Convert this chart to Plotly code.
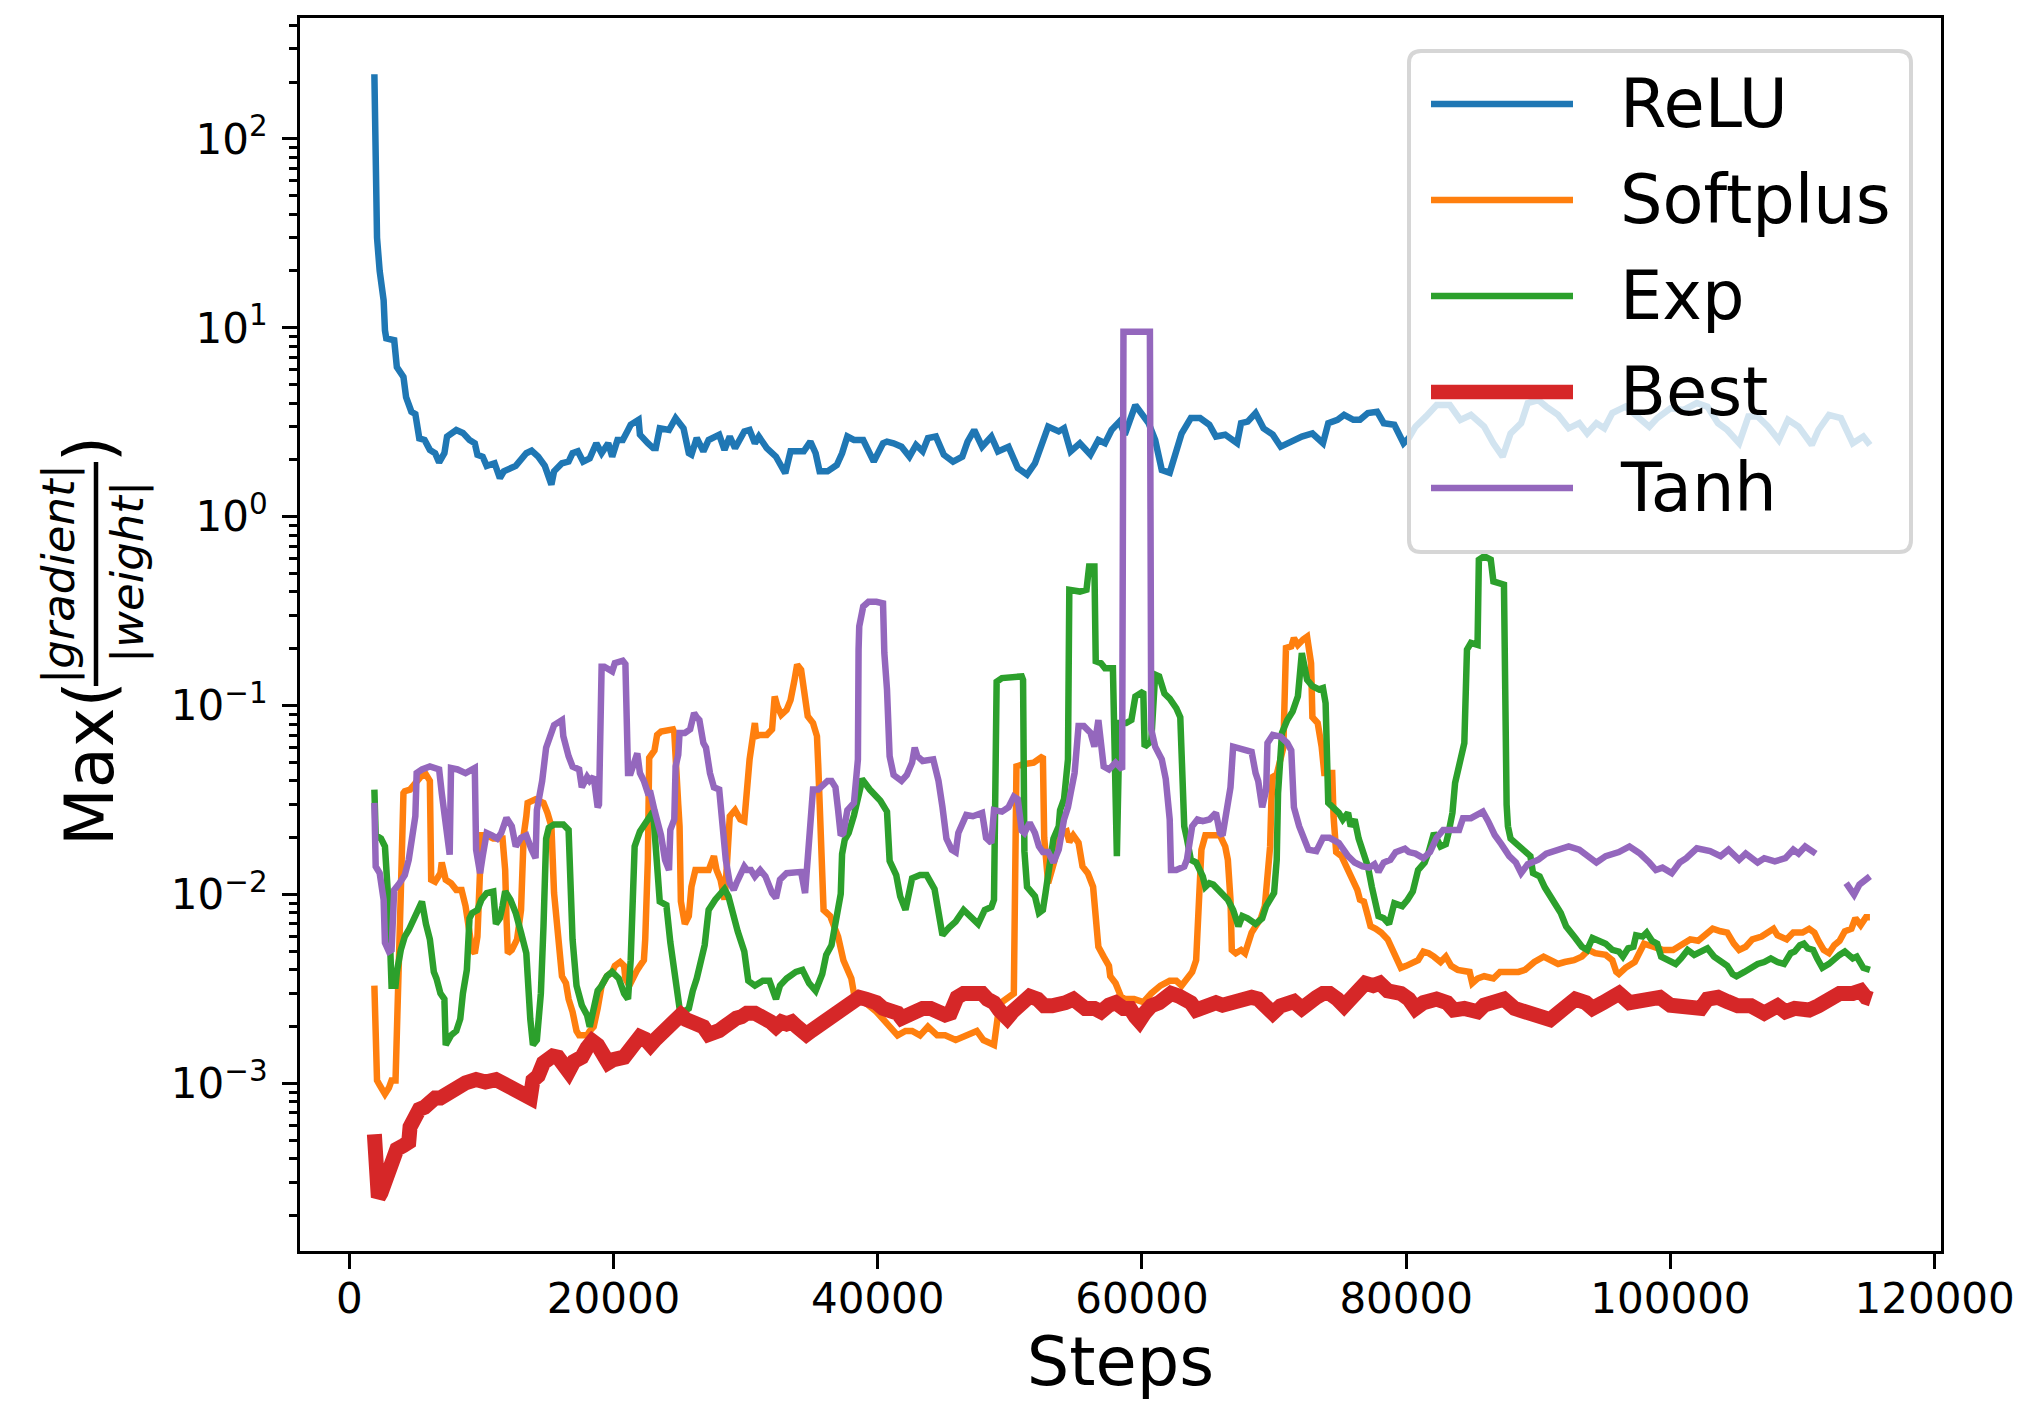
import plotly.graph_objects as go

# ---------------- data ----------------
relu_x = [1900, 2000, 2100, 2300, 2600, 2700, 2800, 3400, 3600, 4100, 4300, 4700, 5000, 5300, 5700, 6100, 6500, 6800,
          7200, 7400, 8100, 8600, 9100, 9500, 9700, 10100, 10400, 11000, 11400, 11700, 12600, 13400, 13800, 14300,
          14800, 15300, 15500, 16100, 16600, 16900, 17300, 17700, 18200, 18700, 19100, 19600, 19900, 20300, 20700,
          21100, 21300, 21900, 22000, 22600, 23000, 23200, 23500, 24200, 24700, 25300, 25700, 25900, 26300, 26800,
          27200, 28000, 28400, 28800, 29200, 29900, 30300, 30700, 31000, 31600, 32300, 33000, 33400, 34100, 34400,
          34900, 35300, 35600, 36200, 36900, 37300, 37700, 38200, 38900, 39700, 40400, 40700, 41200, 41800, 42400,
          42900, 43400, 43800, 44400, 45000, 45700, 46400, 46800, 47300, 47900, 48600, 49100, 49900, 50600, 51300,
          51900, 52300, 52900, 53700, 54100, 54600, 55300, 56100, 56700, 57200, 57700, 58300, 58700, 59500, 59900,
          60500, 61000, 61500, 62100, 62500, 63000, 63700, 64400, 65100, 65600, 66300, 67200, 67500, 68000, 68600,
          69200, 69900, 70500, 71300, 72100, 72900, 73700, 74100, 74800, 75300, 76000, 76500, 77100, 77800, 78300,
          79100, 79800, 80200, 80700, 81500, 82300, 83300, 84100, 84900, 85900, 86600, 87300, 87900, 88700, 89200,
          90000, 90600, 91500, 92300, 93100, 93700, 94400, 95000, 95600, 96600, 97400, 98400, 99000, 100000, 101000,
          102000, 102800, 103600, 104300, 105200, 105900, 106600, 107400, 108200, 108900, 109700, 110700, 111200,
          112000, 112900, 113800, 114600, 115100]
relu_y = [220, 100, 30, 20, 14, 9.7, 8.8, 8.6, 6.2, 5.5, 4.3, 3.6, 3.5, 2.6, 2.55, 2.26, 2.17, 1.94,
          2.17, 2.66, 2.88, 2.78, 2.55, 2.45, 2.13, 2.08, 1.86, 1.92, 1.6, 1.74, 1.86, 2.17, 2.24, 2.08,
          1.86, 1.48, 1.74, 1.92, 1.96, 2.17, 2.22, 1.96, 2.04, 2.45, 2.17, 2.45, 2.08, 2.55, 2.55,
          2.88, 3.07, 3.26, 2.72, 2.45, 2.31, 2.31, 2.94, 2.88, 3.33, 2.94, 2.17, 2.13, 2.61, 2.22,
          2.55, 2.72, 2.26, 2.66, 2.31, 2.83, 2.88, 2.45, 2.66, 2.31, 2.08, 1.70, 2.22, 2.22, 2.22,
          2.5, 2.17, 1.74, 1.74, 1.88, 2.17, 2.66, 2.55, 2.55, 1.96, 2.45, 2.5, 2.45, 2.35, 2.08,
          2.4, 2.22, 2.61, 2.66, 2.13, 1.96, 2.08, 2.5, 2.88, 2.35, 2.66, 2.22, 2.35, 1.81, 1.67,
          1.92, 2.31, 3.0, 2.83, 2.94, 2.22, 2.45, 2.13, 2.55, 2.45, 2.88, 3.19, 2.72, 3.9, 3.6,
          3.13, 2.55, 1.77, 1.71, 2.13, 2.76, 3.33, 3.33, 3.07, 2.66, 2.72, 2.45, 3.13, 3.19, 3.54,
          2.94, 2.72, 2.35, 2.5, 2.66, 2.76, 2.45, 3.13, 3.26, 3.46, 3.26, 3.26, 3.54, 3.6, 3.13,
          3.07, 2.45, 2.61, 3.0, 3.4, 3.9, 3.9, 3.26, 3.46, 3.0, 2.45, 2.08, 2.76, 3.13, 4.0,
          4.15, 3.83, 3.46, 2.94, 3.13, 2.76, 3.13, 2.94, 3.54, 3.83, 3.4, 3.0, 3.33, 3.75, 3.68,
          4.0, 3.83, 3.13, 2.88, 2.45, 3.4, 3.4, 3.0, 2.55, 3.26, 3.0, 2.4, 2.88,
          3.46, 3.33, 2.45, 2.66, 2.4]

softplus_x = [1900, 2000, 2100, 2300, 2700, 3000, 3200, 3500, 3600, 3800, 3900, 4100, 4200, 4600, 5000, 5400, 5800,
              6100, 6200, 6500, 6900, 7000, 7300, 7700, 8100, 8500, 8800, 9100, 9300, 9500, 9700, 9900, 10000, 10400,
              10900, 11600, 11800, 11900, 12000, 12300, 12700, 13000, 13100, 13200, 13400, 13500, 14100, 14700, 15000,
              15300, 15500, 15800, 16100, 16400, 16600, 16900, 17200, 17400, 18000, 18200, 18500, 18800, 19100, 19500,
              19900, 20100, 20500, 20800, 20900, 21200, 21500, 21800, 22000, 22300, 22400, 22600, 22700, 23100, 23300,
              23600, 24500, 24600, 24900, 25000, 25100, 25400, 25700, 25900, 26200, 27200, 27600, 27800, 28100, 28400,
              28500, 28600, 28800, 29200, 29600, 29900, 30100, 30300, 30700, 30800, 31100, 31600, 32000, 32200, 32400,
              32700, 33100, 33400, 33700, 33900, 34200, 34500, 34700, 35100, 35400, 35500, 35800, 35900, 36400, 36800,
              37000, 37400, 37700, 38000, 38200, 38800, 39300, 39900, 40400, 40900, 41500, 42100, 42600, 43200, 43800,
              44500, 45100, 45900, 46700, 47500, 48000, 48800, 49100, 49400, 50300, 50500, 51000, 51800, 52500, 52600,
              52900, 53400, 53700, 54000, 54300, 54500, 54800, 55200, 55500, 55900, 56300, 56400, 56700, 57100, 57500,
              57600, 58000, 58400, 58700, 59400, 60100, 60700, 61400, 62100, 62600, 63000, 63400, 63800, 64100, 64200,
              64400, 64500, 64800, 65300, 65900, 66300, 66500, 66700, 66800, 67100, 67500, 67800, 68000, 68300, 68600,
              69000, 69300, 69500, 69700, 69800, 69900, 70200, 70700, 70900, 71300, 71500, 71800, 72200, 72500, 72800,
              72900, 73300, 73600, 73800, 74400, 74500, 74700, 75100, 75500, 75900, 76300, 76500, 76800, 77100, 77300,
              77700, 78100, 78600, 79100, 79400, 79600, 80000, 80500, 80900, 81300, 81700, 82100, 82600, 83000, 83400,
              83900, 84400, 84800, 85000, 85400, 85900, 86600, 87100, 87800, 88500, 89000, 89700, 90400, 90900, 91500,
              92000, 92700, 93300, 93800, 94300, 95100, 95600, 95900, 96100, 96600, 97300, 97700, 98000, 98700, 99400,
              100200, 100700, 101500, 102100, 102600, 103200, 103800, 104300, 104800, 105200, 105700, 106200, 106900,
              107400, 107800, 108100, 108800, 109300, 110000, 110500, 110900, 111200, 111600, 112000, 112400, 112800,
              113200, 113700, 114000, 114400, 114800, 115100]
softplus_y = [0.0033, 0.0016, 0.00104, 0.00098, 0.00088, 0.00095, 0.00104, 0.00104, 0.0018, 0.0030, 0.0102, 0.0345,
              0.0353, 0.036, 0.039, 0.042, 0.0433, 0.040, 0.012, 0.0117, 0.013, 0.0148, 0.012, 0.0115, 0.0106, 0.0106,
              0.0087, 0.006, 0.0051, 0.0049, 0.006, 0.0135, 0.0206, 0.0206, 0.0198, 0.0198, 0.0135, 0.0075, 0.0049,
              0.0051, 0.0058, 0.0083, 0.012, 0.0206, 0.026, 0.0306, 0.032, 0.0306, 0.0271, 0.023, 0.0102, 0.0063,
              0.0037, 0.0034, 0.0028, 0.0024, 0.0019, 0.0018, 0.0018, 0.0019, 0.002, 0.0025, 0.0033, 0.0037, 0.0039,
              0.0042, 0.0044, 0.0042, 0.0036, 0.0033, 0.0037, 0.004, 0.0042, 0.0045, 0.0058, 0.0153, 0.053, 0.058,
              0.070, 0.073, 0.075, 0.072, 0.030, 0.023, 0.0092, 0.007, 0.0077, 0.011, 0.0135, 0.0135, 0.016, 0.0135,
              0.012, 0.0094, 0.0115, 0.018, 0.026, 0.028, 0.025, 0.0245, 0.0345, 0.052, 0.081, 0.069, 0.070, 0.070,
              0.075, 0.112, 0.0995, 0.0895, 0.095, 0.107, 0.137, 0.165, 0.155, 0.107, 0.088, 0.081, 0.069, 0.0477,
              0.0153, 0.0083, 0.0077, 0.0065, 0.006, 0.0045, 0.004, 0.0036, 0.003, 0.0028, 0.0026, 0.0024, 0.0022,
              0.002, 0.0018, 0.0019, 0.0019, 0.0018, 0.0020, 0.0018, 0.0018, 0.0017, 0.0018, 0.0019, 0.0017, 0.0016,
              0.0023, 0.0027, 0.003, 0.0477, 0.049, 0.050, 0.054, 0.02, 0.0115, 0.0153, 0.0198, 0.0212, 0.0216,
              0.019, 0.0206, 0.0188, 0.0141, 0.013, 0.011, 0.0087, 0.0053, 0.0047, 0.0042, 0.0037, 0.0034, 0.0029,
              0.0028, 0.0028, 0.0027, 0.003, 0.0033, 0.0035, 0.0035, 0.0033, 0.0036, 0.0039, 0.0045, 0.0068, 0.0102,
              0.0173, 0.0206, 0.0207, 0.0206, 0.018, 0.0153, 0.0094, 0.0051, 0.0049, 0.0051, 0.0049, 0.0055, 0.0063,
              0.0068, 0.0075, 0.0087, 0.0115, 0.018, 0.032, 0.042, 0.0433, 0.06, 0.202, 0.206, 0.228, 0.21, 0.224,
              0.232, 0.168, 0.087, 0.081, 0.0607, 0.044, 0.044, 0.026, 0.0168, 0.016, 0.0141, 0.012, 0.0106, 0.0094,
              0.0092, 0.0077, 0.0068, 0.0066, 0.0063, 0.0058, 0.0049, 0.0043, 0.0041, 0.0042, 0.0044, 0.0045, 0.005,
              0.0049, 0.0047, 0.0044, 0.0047, 0.0042, 0.004, 0.0039, 0.0039, 0.0034, 0.0036, 0.0037, 0.0036, 0.0039,
              0.0039, 0.0039, 0.004, 0.0044, 0.0047, 0.0045, 0.0043, 0.0044, 0.0045, 0.0047, 0.0051, 0.0049, 0.0048,
              0.0045, 0.0039, 0.0038, 0.0041, 0.0044, 0.0051, 0.0055, 0.0053, 0.0051, 0.0051, 0.0054, 0.0058, 0.0057,
              0.0061, 0.0066, 0.0064, 0.0063, 0.0055, 0.0051, 0.0053, 0.0058, 0.006, 0.0064, 0.0066, 0.0061, 0.0058,
              0.0063, 0.0063, 0.0066, 0.0063, 0.0057, 0.0051, 0.0049, 0.0054, 0.0057, 0.0064, 0.0066, 0.0075, 0.0069,
              0.0076, 0.0076]

exp_x = [1900, 2000, 2400, 2700, 3000, 3100, 3200, 3500, 3600, 3900, 4200, 4500, 4700, 5000, 5300, 5500, 5800, 6100,
         6400, 6600, 6900, 7200, 7300, 7700, 8100, 8400, 8600, 8900, 9100, 9300, 9700, 10000, 10400, 10900, 11100,
         11400, 11600, 11800, 12200, 12600, 13000, 13400, 13700, 13900, 14200, 14500, 14700, 14900, 15100, 15500,
         16200, 16600, 16900, 17200, 17600, 18000, 18200, 18500, 18800, 19100, 19500, 19900, 20400, 20800, 21100,
         21300, 21600, 22000, 22400, 22700, 23000, 23500, 24000, 24300, 24700, 25000, 25300, 25700, 26000, 26300,
         26900, 27200, 27700, 28400, 28700, 29100, 29400, 29900, 30200, 30700, 31300, 31800, 32300, 32600, 33100,
         33800, 34300, 34800, 35300, 35800, 36100, 36500, 36800, 37200, 37300, 37500, 37800, 38200, 38700, 38800,
         39400, 39700, 40200, 40700, 40900, 41400, 41700, 42100, 42600, 43200, 43700, 44300, 44600, 44900, 45400,
         45900, 46500, 47000, 47600, 48100, 48600, 48800, 49000, 49400, 50900, 51000, 51100, 51300, 51500, 51900,
         52200, 52500, 52700, 53000, 53300, 53700, 53800, 54100, 54400, 54500, 55300, 55800, 56000, 56400, 56500,
         56900, 57200, 57800, 58000, 58100, 58300, 58800, 59200, 59500, 60100, 60200, 60700, 61000, 61300, 61700,
         62100, 62400, 62600, 62900, 63200, 63400, 63700, 64100, 64400, 64600, 64800, 65100, 65400, 65800, 66200,
         66500, 66900, 67300, 67600, 68000, 68600, 69100, 69400, 69800, 70000, 70200, 70300, 70600, 71000, 71400,
         71800, 72100, 72500, 72900, 73400, 73700, 73900, 74100, 74500, 74900, 75200, 75600, 75800, 76100, 76400,
         76800, 77100, 77400, 77600, 77900, 78300, 78700, 79100, 79700, 80100, 80500, 80900, 81400, 81700, 82100,
         82600, 83000, 83200, 83500, 83700, 84000, 84100, 84400, 84600, 84900, 85400, 85500, 85900, 86400, 86600,
         87100, 87400, 87600, 87700, 87900, 88400, 89000, 89400, 89600, 90100, 90500, 90900, 91300, 91700, 92100,
         92400, 92800, 93300, 93700, 94100, 94600, 95100, 95600, 96100, 96400, 96800, 97200, 97400, 97900, 98200,
         98600, 99000, 99300, 99600, 100100, 100400, 100800, 101300, 101800, 102400, 102800, 103300, 103800, 104300,
         104700, 105000, 105600, 106100, 106600, 107100, 107600, 108100, 108600, 109100, 109400, 109800, 110100,
         110400, 110800, 111100, 111500, 112000, 112400, 112800, 113200, 113600, 113800, 114100, 114400, 114600,
         115100]
exp_y = [0.036, 0.0206, 0.0198, 0.018, 0.0083, 0.0053, 0.0033, 0.0033, 0.0039, 0.0051, 0.0060, 0.0065, 0.007, 0.0077,
         0.0087, 0.0092, 0.007, 0.0058, 0.0039, 0.0036, 0.0030, 0.0028, 0.0016, 0.0018, 0.0019, 0.0022, 0.003, 0.004,
         0.0075, 0.008, 0.0083, 0.0094, 0.0102, 0.0104, 0.007, 0.0075, 0.0087, 0.0104, 0.0094, 0.008, 0.0063, 0.0049,
         0.0022, 0.0016, 0.0017, 0.003, 0.0068, 0.0198, 0.0226, 0.0235, 0.0235, 0.022, 0.0058, 0.0033, 0.0026,
         0.0023, 0.0020, 0.0024, 0.0031, 0.0033, 0.0037, 0.0039, 0.0036, 0.003, 0.0028, 0.0045, 0.018, 0.0216, 0.024,
         0.0255, 0.0275, 0.0092, 0.0088, 0.0056, 0.0033, 0.0025, 0.0024, 0.0025, 0.0031, 0.0036, 0.0054, 0.0083,
         0.0094, 0.0107, 0.0098, 0.0076, 0.0064, 0.005, 0.0035, 0.0033, 0.0035, 0.0035, 0.0028, 0.0033, 0.0036,
         0.0039, 0.004, 0.0034, 0.0031, 0.0038, 0.0048, 0.0054, 0.007, 0.0101, 0.0164, 0.0195, 0.0212, 0.0263,
         0.0371, 0.041, 0.036, 0.0345, 0.0314, 0.0275, 0.0151, 0.0127, 0.0098, 0.0083, 0.0122, 0.0127, 0.0127,
         0.0107, 0.0076, 0.0061, 0.0067, 0.0072, 0.0083, 0.0076, 0.007, 0.0083, 0.0086, 0.0094, 0.134, 0.14, 0.143,
         0.137, 0.017, 0.011, 0.0106, 0.0098, 0.008, 0.0083, 0.0102, 0.0153, 0.0198, 0.023, 0.028, 0.032, 0.052,
         0.411, 0.402, 0.411, 0.546, 0.546, 0.172, 0.168, 0.158, 0.158, 0.05, 0.016, 0.081, 0.081, 0.084, 0.112,
         0.119, 0.0607, 0.065, 0.146, 0.143, 0.116, 0.109, 0.103, 0.097, 0.087, 0.023, 0.0198, 0.0153, 0.0148,
         0.0135, 0.0125, 0.011, 0.0115, 0.0113, 0.0106, 0.0100, 0.0094, 0.0083, 0.0068, 0.0077, 0.0075, 0.007,
         0.0075, 0.0087, 0.0096, 0.0102, 0.0153, 0.0345, 0.072, 0.084, 0.093, 0.112, 0.190, 0.137, 0.127, 0.122,
         0.124, 0.103, 0.0306, 0.029, 0.0271, 0.025, 0.0271, 0.023, 0.025, 0.0198, 0.0168, 0.0141, 0.011, 0.0094,
         0.0077, 0.0075, 0.007, 0.009, 0.0087, 0.0094, 0.0104, 0.0135, 0.0148, 0.0168, 0.0212, 0.018, 0.0185,
         0.0212, 0.0271, 0.039, 0.050, 0.052, 0.0635, 0.198, 0.215, 0.21, 0.593, 0.618, 0.593, 0.455, 0.445, 0.437,
         0.03, 0.023, 0.0198, 0.0185, 0.0173, 0.016, 0.013, 0.0125, 0.0109, 0.0098, 0.0087, 0.008, 0.0068, 0.0063,
         0.0059, 0.0053, 0.0051, 0.0059, 0.0057, 0.0055, 0.0051, 0.005, 0.0047, 0.0052, 0.0053, 0.0061, 0.006,
         0.0063, 0.0057, 0.0055, 0.0047, 0.0046, 0.0044, 0.0043, 0.0046, 0.0051, 0.0048, 0.005, 0.0052, 0.0047,
         0.0044, 0.0042, 0.0038, 0.0037, 0.0039, 0.0041, 0.0043, 0.0044, 0.0046, 0.0044, 0.0043, 0.0049, 0.005,
         0.0054, 0.0055, 0.0052, 0.0051, 0.0046, 0.0041, 0.0043, 0.0046, 0.0048, 0.005, 0.0048, 0.0046, 0.0047,
         0.0044, 0.0041, 0.004]

best_x = [1900, 2000, 2200, 2400, 2700, 3000, 3200, 3600, 4100, 4500, 4600, 4900, 5300, 5700, 6100, 6500, 6900, 7200,
          7700, 8200, 8800, 9600, 10300, 11100, 11600, 12300, 12800, 13400, 13700, 13900, 14300, 14700, 15000, 15400,
          15800, 16200, 16600, 17000, 17600, 18000, 18400, 18800, 19200, 19600, 20000, 20400, 20800, 21200, 21600,
          22000, 22400, 22800, 23200, 23600, 24100, 24500, 24900, 25100, 25500, 25900, 26300, 26800, 27200, 27600,
          28000, 28400, 28800, 29300, 29700, 30100, 30700, 31100, 31500, 31900, 32300, 32700, 33100, 33500, 33900,
          34300, 34600, 35000, 35400, 35800, 36200, 36600, 37000, 37400, 37800, 38200, 38600, 39100, 39500, 39900,
          40400, 40900, 41500, 41800, 42400, 42900, 43400, 44000, 44500, 45100, 45500, 45700, 46000, 46500, 47100,
          47500, 47900, 48300, 48800, 49200, 49500, 49800, 50200, 50600, 51000, 51500, 52100, 52600, 53200, 53700,
          54200, 54800, 55200, 55700, 56400, 56900, 57500, 58000, 58600, 59100, 59500, 59800, 60200, 60700, 61300,
          61800, 62200, 62800, 63300, 63700, 64100, 64500, 65100, 65600, 66100, 66700, 67200, 67800, 68300, 68800,
          69400, 69900, 70500, 71000, 71500, 72100, 72600, 73200, 73700, 74200, 74800, 75300, 75900, 76400, 76900,
          77500, 78000, 78600, 79100, 79600, 80200, 80700, 81300, 81800, 82300, 83100, 83600, 84400, 85400, 85900,
          86900, 87400, 88200, 89200, 90300, 90900, 91500, 92300, 92800, 93600, 94100, 94900, 95600, 96100, 96900,
          97700, 98400, 99200, 100000, 101000, 101800, 102300, 102800, 103600, 104300, 105100, 106100, 107100,
          108100, 108700, 109400, 110500, 111200, 112000, 112800, 113800, 114400, 114800, 115200]
best_y = [0.00054, 0.000264, 0.00025, 0.000264, 0.0003, 0.00033, 0.0004, 0.00045, 0.00047, 0.00049, 0.00059, 0.00068,
          0.00073, 0.00075, 0.00081, 0.00084, 0.00084, 0.00087, 0.00092, 0.00097, 0.00101, 0.00105, 0.00102, 0.00105,
          0.00101, 0.00097, 0.00092, 0.00086, 0.00084, 0.00104, 0.0011, 0.00129, 0.00135, 0.0014, 0.00138, 0.00126,
          0.00116, 0.00131, 0.00138, 0.00155, 0.00168, 0.0016, 0.00138, 0.00129, 0.00134, 0.00134, 0.00138, 0.0015,
          0.00168, 0.00177, 0.00172, 0.0016, 0.00172, 0.00184, 0.002, 0.00218, 0.00226, 0.00231, 0.00218, 0.00212,
          0.00207, 0.002, 0.00182, 0.00184, 0.00191, 0.002, 0.00214, 0.00222, 0.00226, 0.00236, 0.00236, 0.00231,
          0.00222, 0.00212, 0.002, 0.00212, 0.00207, 0.00212, 0.002, 0.00184, 0.00182, 0.00191, 0.002, 0.00212,
          0.00218, 0.00236, 0.00245, 0.0025, 0.0026, 0.0028, 0.00286, 0.0028, 0.0028, 0.00268, 0.0025, 0.00245,
          0.00236, 0.00222, 0.00236, 0.00245, 0.0025, 0.0025, 0.0024, 0.00231, 0.00236, 0.0026, 0.00286, 0.003, 0.003,
          0.0031, 0.003, 0.0028, 0.00268, 0.00245, 0.00226, 0.00222, 0.0024, 0.00258, 0.0028, 0.0029, 0.0028,
          0.00258, 0.00258, 0.0026, 0.00268, 0.0028, 0.00258, 0.0025, 0.0025, 0.0024, 0.0026, 0.00268, 0.0025,
          0.0025, 0.00226, 0.00214, 0.00236, 0.00258, 0.00268, 0.00286, 0.003, 0.0029, 0.0028, 0.00268, 0.00245,
          0.0025, 0.0025, 0.00268, 0.0026, 0.00268, 0.0028, 0.0028, 0.00286, 0.0028, 0.00258, 0.00236, 0.00258,
          0.00268, 0.00272, 0.0025, 0.0026, 0.00286, 0.003, 0.003, 0.0028, 0.00258, 0.00286, 0.0031, 0.0034, 0.0033,
          0.0034, 0.0031, 0.0031, 0.003, 0.0028, 0.0025, 0.00268, 0.0028, 0.0028, 0.00268, 0.00245, 0.0025, 0.0024,
          0.0026, 0.00272, 0.0028, 0.0025, 0.0024, 0.00231, 0.00218, 0.00236, 0.00268, 0.0028, 0.00268, 0.0025,
          0.00268, 0.0028, 0.003, 0.00268, 0.00272, 0.0028, 0.00286, 0.0026, 0.00258, 0.0026, 0.0025, 0.0028,
          0.00286, 0.00272, 0.00258, 0.00258, 0.00236, 0.00258, 0.0024, 0.0025, 0.00245, 0.00258, 0.0028, 0.003,
          0.003, 0.0031, 0.00286, 0.0028]

# Tanh as (step, value) pairs; None marks the short gap near the end of the run
tanh_points = [
    (1900, 0.0306), (2000, 0.0141), (2300, 0.0130), (2600, 0.0094), (2700, 0.00556), (3000, 0.0050),
    (3200, 0.0051), (3400, 0.0106), (3800, 0.0115), (4200, 0.0127), (4500, 0.0153), (4700, 0.0188),
    (5000, 0.026), (5100, 0.044), (5500, 0.046), (6100, 0.0477), (6800, 0.046), (7000, 0.0345),
    (7300, 0.023), (7600, 0.0163), (7700, 0.0468), (8200, 0.046), (8800, 0.044), (9500, 0.0468),
    (9600, 0.0173), (9900, 0.0130), (10100, 0.016), (10400, 0.0212), (10800, 0.0206), (11200, 0.0198),
    (11500, 0.0212), (11900, 0.0255), (12300, 0.023), (12600, 0.018), (13000, 0.0200), (13400, 0.0206),
    (13800, 0.0173), (14100, 0.0156), (14200, 0.028), (14600, 0.04), (14900, 0.06), (15300, 0.070),
    (15500, 0.079), (16100, 0.084), (16200, 0.069), (16600, 0.054), (16900, 0.0477), (17400, 0.046),
    (17600, 0.037), (18000, 0.042), (18200, 0.040), (18500, 0.042), (18800, 0.029), (18900, 0.03),
    (19100, 0.161), (19300, 0.161), (19900, 0.152), (20100, 0.168), (20700, 0.173), (20900, 0.166),
    (21100, 0.044), (21300, 0.044), (21800, 0.056), (22000, 0.044), (22300, 0.040), (22600, 0.0345),
    (22800, 0.0345), (23100, 0.028), (23400, 0.023), (23600, 0.0206), (23900, 0.0153), (24200, 0.0135),
    (24300, 0.022), (24600, 0.025), (24700, 0.0477), (24900, 0.055), (25000, 0.0717), (25400, 0.0717),
    (25800, 0.075), (26100, 0.0915), (26300, 0.087), (26500, 0.084), (26800, 0.0635), (27000, 0.060),
    (27300, 0.044), (27600, 0.037), (28000, 0.036), (28200, 0.023), (28500, 0.0153), (28800, 0.0115),
    (29100, 0.0106), (29300, 0.0115), (29600, 0.0130), (29900, 0.0141), (30100, 0.0135), (30400, 0.0135),
    (30700, 0.0125), (31100, 0.0135), (31500, 0.0125), (31800, 0.011), (32000, 0.0102), (32300, 0.0096),
    (32600, 0.012), (33100, 0.013), (33700, 0.0132), (34200, 0.0132), (34500, 0.0102), (34700, 0.0153),
    (35000, 0.025), (35100, 0.036), (35500, 0.036), (36000, 0.039), (36200, 0.040), (36500, 0.040),
    (36800, 0.037), (37000, 0.028), (37200, 0.0206), (37400, 0.0212), (37700, 0.028), (38200, 0.0306),
    (38500, 0.052), (38550, 0.198), (38600, 0.263), (38900, 0.335), (39300, 0.355), (39900, 0.355),
    (40400, 0.348), (40500, 0.19), (40700, 0.122), (40900, 0.054), (41200, 0.043), (41800, 0.040),
    (42200, 0.043), (42600, 0.050), (42800, 0.060), (43000, 0.054), (43400, 0.051), (44200, 0.052),
    (44600, 0.040), (44900, 0.029), (45200, 0.0198), (45600, 0.0173), (45900, 0.0168), (46100, 0.0212),
    (46700, 0.0264), (47200, 0.026), (47900, 0.0271), (48200, 0.020), (48600, 0.0188), (48800, 0.028),
    (49400, 0.0275), (49900, 0.029), (50300, 0.033), (50600, 0.032), (50900, 0.0218), (51100, 0.0212),
    (51500, 0.024), (51900, 0.0212), (52200, 0.018), (52500, 0.0168), (52900, 0.0168), (53300, 0.0148),
    (53700, 0.0173), (54100, 0.025), (54400, 0.029), (54600, 0.0345), (54900, 0.044), (55200, 0.078),
    (55600, 0.078), (56100, 0.072), (56400, 0.0607), (56700, 0.084), (56800, 0.075), (57100, 0.0477),
    (57500, 0.046), (58000, 0.05), (58500, 0.046), (58600, 9.55), (60600, 9.55), (60700, 0.075),
    (61000, 0.0607), (61500, 0.052), (61800, 0.041), (62100, 0.025), (62200, 0.0135), (62600, 0.0135),
    (63200, 0.0141), (63400, 0.0153), (63800, 0.023), (64200, 0.025), (64600, 0.0245), (65100, 0.025),
    (65600, 0.0271), (65900, 0.0212), (66100, 0.0206), (66400, 0.029), (66700, 0.037), (66900, 0.0607),
    (67800, 0.058), (68300, 0.057), (68600, 0.044), (68800, 0.040), (69100, 0.029), (69400, 0.036),
    (69500, 0.0635), (69900, 0.0701), (70500, 0.0686), (71000, 0.0635), (71300, 0.058), (71500, 0.029),
    (71900, 0.023), (72300, 0.0198), (72600, 0.0173), (73200, 0.017), (73700, 0.020), (74200, 0.020),
    (74900, 0.0188), (75600, 0.016), (76100, 0.0148), (76700, 0.0141), (77200, 0.0139), (77600, 0.0145),
    (77900, 0.0132), (78300, 0.0148), (78800, 0.0153), (79200, 0.0168), (79900, 0.0175), (80200, 0.0168),
    (80700, 0.0165), (81300, 0.0156), (81800, 0.0168), (82300, 0.020), (82800, 0.022), (84000, 0.022),
    (84300, 0.0254), (84900, 0.0254), (85400, 0.0264), (85800, 0.0275), (86200, 0.0245), (86700, 0.0207),
    (87200, 0.0185), (87800, 0.016), (88300, 0.0148), (88700, 0.013), (89200, 0.0145), (90000, 0.0153),
    (90600, 0.0165), (91300, 0.017), (92300, 0.018), (93100, 0.0173), (93800, 0.016), (94400, 0.0148),
    (95100, 0.016), (96100, 0.0168), (96900, 0.018), (97700, 0.0165), (98400, 0.0148), (98900, 0.0135),
    (99400, 0.0139), (100100, 0.013), (100700, 0.0148), (101200, 0.0156), (102000, 0.0176), (103000, 0.017),
    (103800, 0.016), (104400, 0.0173), (105200, 0.0153), (105700, 0.0165), (106600, 0.0148), (107100, 0.0156),
    (107900, 0.015), (108700, 0.0156), (109300, 0.0173), (109700, 0.0165), (110200, 0.018), (111000, 0.0165),
    (112000, None), (113300, 0.0115), (113900, 0.0100), (114300, 0.0113), (115100, 0.0125),
]
tanh_x = [p[0] for p in tanh_points]
tanh_y = [p[1] for p in tanh_points]

series_names = ["ReLU", "Softplus", "Exp", "Best", "Tanh"]
series_colors = ["#1f77b4", "#ff7f0e", "#2ca02c", "#d62728", "#9467bd"]
series_widths = [6.5, 6.5, 6.5, 15, 6.5]
legend_widths = [6.5, 6.5, 6.5, 14.5, 6.5]

x_tick_vals = [0, 20000, 40000, 60000, 80000, 100000, 120000]
x_tick_text = ["0", "20000", "40000", "60000", "80000", "100000", "120000"]
y_tick_vals = [1e-3, 1e-2, 1e-1, 1e0, 1e1, 1e2]
y_tick_text = ["10<sup>\u22123</sup>", "10<sup>\u22122</sup>", "10<sup>\u22121</sup>",
               "10<sup>0</sup>", "10<sup>1</sup>", "10<sup>2</sup>"]
y_minor_vals = [m * 10.0 ** e for e in range(-4, 3) for m in range(2, 10)]

# ---------------- layout geometry (pixels) ----------------
W, H = 2025, 1401
L, R, T, B = 300, 1941, 18, 1251
PW, PH = R - L, B - T
FONT = "DejaVu Sans"


def fx(p):
    return (p - L) / PW


def fy(p):
    return (B - p) / PH


fig = go.Figure()
data = [(relu_x, relu_y), (softplus_x, softplus_y), (exp_x, exp_y), (best_x, best_y), (tanh_x, tanh_y)]
for (xs, ys), name, col, wd in zip(data, series_names, series_colors, series_widths):
    fig.add_trace(go.Scatter(x=xs, y=ys, mode="lines", name=name, showlegend=False, connectgaps=False,
                             line=dict(color=col, width=wd)))

fig.update_layout(
    width=W, height=H,
    margin=dict(l=L, r=W - R, t=T, b=H - B, pad=0, autoexpand=False),
    paper_bgcolor="white", plot_bgcolor="white",
    font=dict(family=FONT, color="black"),
)

fig.update_xaxes(
    range=[-3730, 120480], showgrid=False, zeroline=False, automargin=False,
    showline=True, linecolor="black", linewidth=3, mirror=True,
    ticks="outside", ticklen=15, tickwidth=3, tickcolor="black", ticklabelstandoff=-6,
    tickvals=x_tick_vals, ticktext=x_tick_text, tickfont=dict(size=42, family=FONT, color="black"),
    title=dict(text="Steps", font=dict(size=67, family=FONT, color="black"), standoff=19),
)
fig.update_yaxes(
    type="log", range=[-3.886, 2.640], showgrid=False, zeroline=False, automargin=False,
    showline=True, linecolor="black", linewidth=3, mirror=True,
    ticks="outside", ticklen=15, tickwidth=3, tickcolor="black", ticklabelstandoff=6,
    tickvals=y_tick_vals, ticktext=y_tick_text, tickfont=dict(size=42, family=FONT, color="black"),
    minor=dict(tickvals=y_minor_vals, ticks="outside", ticklen=8, tickwidth=2.5, tickcolor="black", showgrid=False),
)

# ---------------- y-axis label: Max( |gradient| / |weight| ) ----------------
ann = []
ann.append(dict(text="Max(", x=fx(90), y=fy(764), xref="paper", yref="paper", showarrow=False,
                textangle=-90, xanchor="center", yanchor="middle", font=dict(size=67, family=FONT)))
ann.append(dict(text="<i>|gradient|</i>", x=fx(58), y=fy(574), xref="paper", yref="paper", showarrow=False,
                textangle=-90, xanchor="center", yanchor="middle", font=dict(size=45, family=FONT)))
ann.append(dict(text="<i>|weight|</i>", x=fx(127), y=fy(572), xref="paper", yref="paper", showarrow=False,
                textangle=-90, xanchor="center", yanchor="middle", font=dict(size=45, family=FONT)))
ann.append(dict(text=")", x=fx(90), y=fy(449), xref="paper", yref="paper", showarrow=False,
                textangle=-90, xanchor="center", yanchor="middle", font=dict(size=67, family=FONT)))

shapes = [dict(type="line", xref="paper", yref="paper", x0=fx(96), x1=fx(96), y0=fy(462), y1=fy(686),
               line=dict(color="black", width=4.5))]

# ---------------- legend (drawn like matplotlib's framed legend) ----------------
lx0, lx1, ly0, ly1, rad = 1409, 1911, 51, 552, 12
path = (f"M {fx(lx0 + rad)},{fy(ly0)} L {fx(lx1 - rad)},{fy(ly0)} Q {fx(lx1)},{fy(ly0)} {fx(lx1)},{fy(ly0 + rad)} "
        f"L {fx(lx1)},{fy(ly1 - rad)} Q {fx(lx1)},{fy(ly1)} {fx(lx1 - rad)},{fy(ly1)} "
        f"L {fx(lx0 + rad)},{fy(ly1)} Q {fx(lx0)},{fy(ly1)} {fx(lx0)},{fy(ly1 - rad)} "
        f"L {fx(lx0)},{fy(ly0 + rad)} Q {fx(lx0)},{fy(ly0)} {fx(lx0 + rad)},{fy(ly0)} Z")
shapes.append(dict(type="path", path=path, xref="paper", yref="paper", layer="above",
                   fillcolor="rgba(255,255,255,0.8)", line=dict(color="#d6d6d6", width=4)))
row_y = [104, 200, 296, 392, 488]
for name, col, wd, ry in zip(series_names, series_colors, legend_widths, row_y):
    shapes.append(dict(type="line", xref="paper", yref="paper", layer="above",
                       x0=fx(1431), x1=fx(1573), y0=fy(ry), y1=fy(ry), line=dict(color=col, width=wd)))
    ann.append(dict(text=name, x=fx(1618), y=fy(ry), xref="paper", yref="paper", showarrow=False,
                    xanchor="left", yanchor="middle", font=dict(size=67, family=FONT, color="black")))

fig.update_layout(annotations=ann, shapes=shapes)

fig.write_html("out.html", config={"displayModeBar": False},
               post_script="document.body.style.margin='0px';document.body.style.overflow='hidden';")
